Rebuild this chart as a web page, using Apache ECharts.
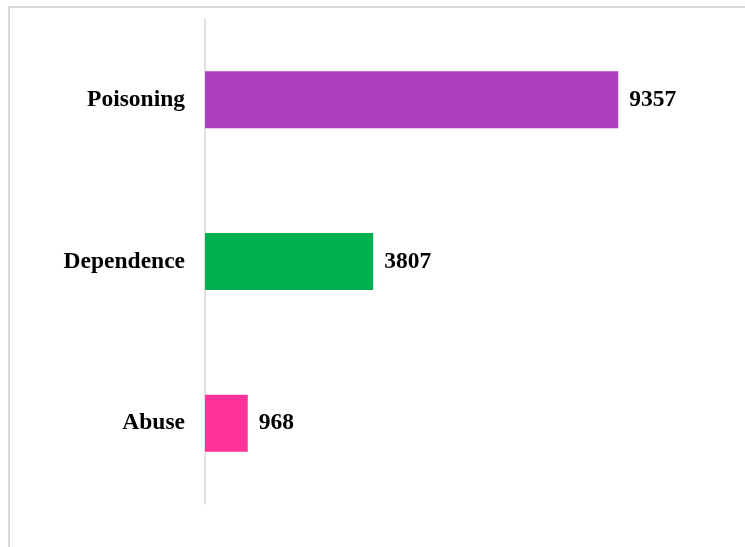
<!DOCTYPE html>
<html lang="en">
<head>
    <meta charset="utf-8">
    <title>Bar chart</title>
    <script src="https://cdn.jsdelivr.net/npm/echarts@6/dist/echarts.min.js"></script>
    <style>
        html, body { margin: 0; padding: 0; background: #fff; }
    </style>
</head>
<body>
    <div id="chart" style="width:745px; height:547px;"></div>

<script type="text/javascript">
// data
var categories = ['Poisoning', 'Dependence', 'Abuse'];
var values = [9357, 3807, 968];
var barColors = ['#AB3FBF', '#00B050', '#FF3399'];

var myChart = echarts.init(document.getElementById('chart'));

var font = '"Liberation Serif", "Times New Roman", serif';

myChart.setOption({
    animation: false,
    backgroundColor: '#fff',
    graphic: [{
        type: 'rect',
        shape: { x: 9, y: 7, width: 800, height: 600 },
        style: { fill: 'none', stroke: '#d9d9d9', lineWidth: 2 },
        silent: true
    }],
    grid: {
        left: 205,
        right: 10,
        top: 19,
        bottom: 43,
        containLabel: false
    },
    xAxis: {
        type: 'value',
        min: 0,
        max: 12000,
        show: false
    },
    yAxis: {
        type: 'category',
        data: categories,
        inverse: true,
        axisLine: { show: true, lineStyle: { color: '#d9d9d9', width: 1.5 } },
        axisTick: { show: false },
        axisLabel: {
            margin: 20,
            color: '#000',
            fontFamily: font,
            fontWeight: 'bold',
            fontSize: 23.5
        }
    },
    series: [{
        type: 'bar',
        barWidth: 57,
        data: values.map(function (v, i) {
            return { value: v, itemStyle: { color: barColors[i] } };
        }),
        label: {
            show: true,
            position: 'right',
            distance: 11,
            color: '#000',
            fontFamily: font,
            fontWeight: 'bold',
            fontSize: 23.5
        }
    }]
});
</script>
</body>
</html>
